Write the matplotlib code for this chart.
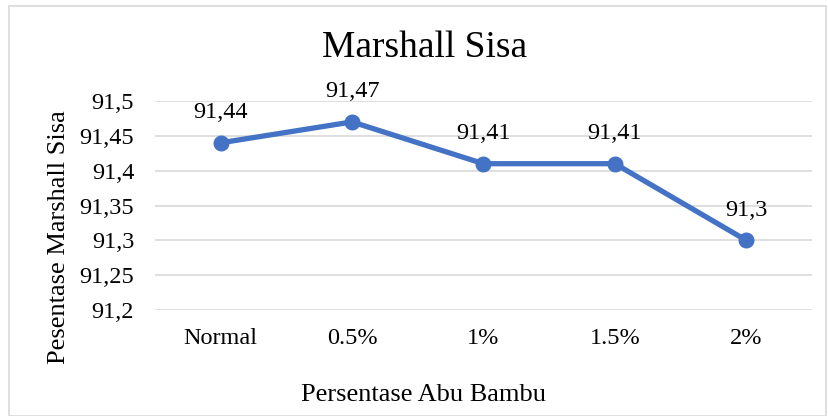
import matplotlib
matplotlib.use("Agg")
import matplotlib.pyplot as plt
from matplotlib.patches import Rectangle

categories = ["Normal", "0.5%", "1%", "1.5%", "2%"]
values = [91.44, 91.47, 91.41, 91.41, 91.30]
yticks = [91.2, 91.25, 91.3, 91.35, 91.4, 91.45, 91.5]
ytick_labels = ["91,2", "91,25", "91,3", "91,35", "91,4", "91,45", "91,5"]
value_labels = ["91,44", "91,47", "91,41", "91,41", "91,3"]

plt.rcParams['font.family'] = ['Liberation Serif', 'DejaVu Serif']

W, H = 829, 416
fig = plt.figure(figsize=(W / 100, H / 100), dpi=100)
fig.patch.set_facecolor("white")
fig.patches.append(Rectangle((9 / W, 0), (826 - 9) / W, (H - 6) / H,
                             transform=fig.transFigure, fill=False,
                             edgecolor="#d9d9d9", linewidth=1.2))

left, right = 155, 812
top, bottom = 101, 310
ax = fig.add_axes([left / W, 1 - bottom / H, (right - left) / W, (bottom - top) / H])
x = list(range(len(categories)))
ax.plot(x, values, color="#4472C4", linewidth=3.8, marker="o", markersize=10.5,
        solid_capstyle="round", zorder=3)
ax.set_xlim(-0.5, len(categories) - 0.5)
ax.set_ylim(91.2, 91.5)
ax.set_yticks(yticks)
ax.set_yticklabels(ytick_labels)
ax.set_xticks(x)
ax.set_xticklabels(categories)
ax.tick_params(axis="both", length=0, labelsize=17.5, colors="black")
ax.tick_params(axis="x", pad=13)
ax.tick_params(axis="y", pad=15)
ax.grid(axis="y", color="#d9d9d9", linewidth=1.2)
ax.set_axisbelow(True)
for s in ax.spines.values():
    s.set_visible(False)

for xi, v, lab in zip(x, values, value_labels):
    ax.annotate(lab, (xi, v), xytext=(0, 14), textcoords="offset points",
                ha="center", va="bottom", fontsize=17.5)

fig.text(425 / W, 1 - 48 / H, "Marshall Sisa", ha="center", va="center", fontsize=27)
fig.text(424 / W, 1 - 395 / H, "Persentase Abu Bambu", ha="center", va="center", fontsize=19)
fig.text(59 / W, 1 - 237 / H, "Pesentase Marshall Sisa", ha="center", va="center",
         rotation=90, fontsize=19)

fig.savefig("out.png", dpi=100)
